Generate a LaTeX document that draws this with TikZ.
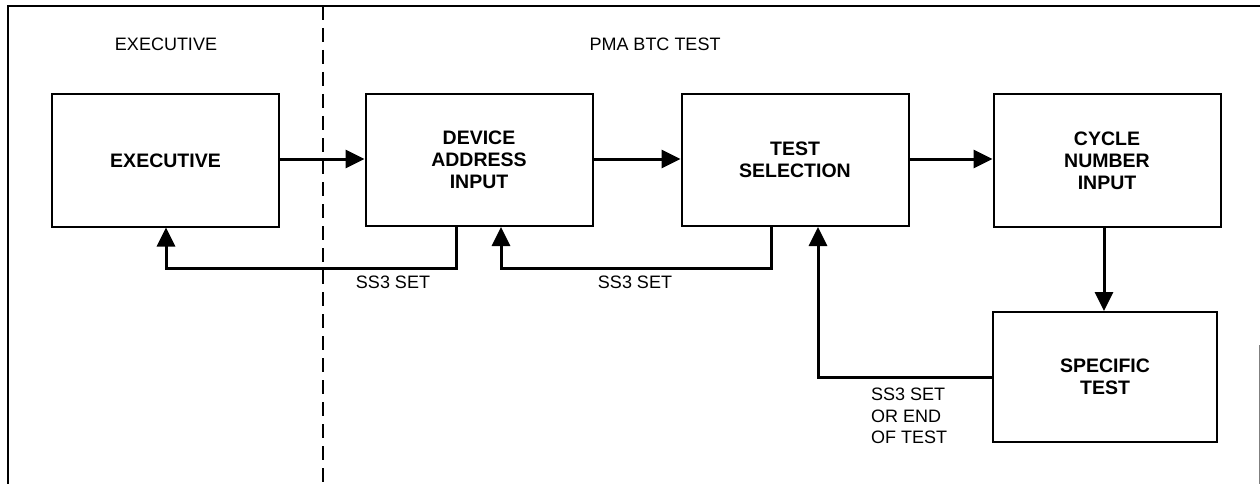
\documentclass[tikz,border=0pt]{standalone}
\usepackage{fontspec}
\setmainfont{Liberation Sans}
\usetikzlibrary{arrows.meta}
\begin{document}
\begin{tikzpicture}[x=1pt,y=-1pt,
  blk/.style={draw,line width=2pt,minimum width=227pt,minimum height=132pt,align=center,
    font=\fontsize{19.5}{22}\selectfont\bfseries},
  flow/.style={line width=3pt,-{Triangle[length=19pt,width=18pt]}},
  lbl/.style={font=\fontsize{18}{21.5}\selectfont,align=left,inner sep=0pt}]
\useasboundingbox (0,0) rectangle (1260,484);
\draw[line width=1.5pt] (8,484) -- (8,6) -- (1260,6);
\draw[line width=0.8pt,black!50] (1259,345) -- (1259,484);
\draw[line width=1.5pt,dash pattern=on 14pt off 8pt] (323,6) -- (323,484);
\node[lbl,anchor=center] (hexec) at (166,44) {EXECUTIVE};
\node[lbl,anchor=center] (hpma) at (655,44) {PMA BTC TEST};
\node[blk] (exec) at (165.5,160.5) {EXECUTIVE};
\node[blk] (dev) at (479,160) {DEVICE\\ADDRESS\\INPUT};
\node[blk] (sel) at (795,160) {TEST\\SELECTION};
\node[blk] (cyc) at (1107,160.5) {CYCLE\\NUMBER\\INPUT};
\node[blk,minimum width=224pt,minimum height=130pt] (spec) at (1105,377) {SPECIFIC\\TEST};
\draw[flow] (exec.east|-0,159) -- (dev.west|-0,159);
\draw[flow] (dev.east|-0,159) -- (sel.west|-0,159);
\draw[flow] (sel.east|-0,159) -- (cyc.west|-0,159);
\draw[flow] (cyc.south-|1104,0) -- (spec.north-|1104,0);
\draw[flow] (spec.west|-0,377) -| (sel.south-|818,0);
\draw[flow] (sel.south-|771,0) |- (501,268) -- (dev.south-|501,0);
\draw[flow] (dev.south-|456,0) |- (166,268) -- (exec.south-|166,0);
\node[lbl,anchor=center] (l1) at (393,282) {SS3 SET};
\node[lbl,anchor=center] (l2) at (635,282) {SS3 SET};
\node[lbl,anchor=north west] (l3) at (871,388) {SS3 SET\\OR END\\OF TEST};
\end{tikzpicture}
\end{document}
